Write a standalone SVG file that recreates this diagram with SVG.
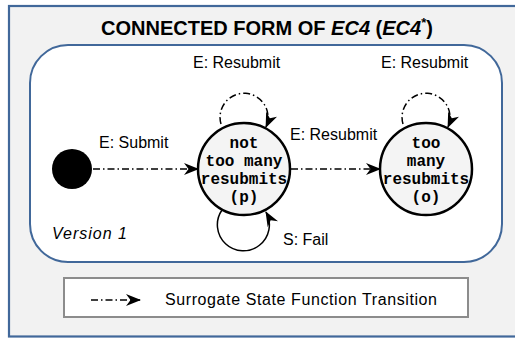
<svg xmlns="http://www.w3.org/2000/svg" width="515" height="338" viewBox="0 0 515 338">
  <defs>
    <marker id="head" markerUnits="userSpaceOnUse" markerWidth="15" markerHeight="12" viewBox="0 0 15 12" refX="14" refY="6" orient="auto">
      <path d="M0,0 L15,6 L0,12 L4.5,6 z" fill="#000"/>
    </marker>
    <style>
      .frame { fill: #f2f2f2; stroke: #41689a; stroke-width: 2.2; }
      .panel { fill: #ffffff; stroke: #41689a; stroke-width: 2; }
      .legend { fill: #ffffff; stroke: #8c8c8c; stroke-width: 2; }
      .state { fill: #f4f4f4; stroke: #000; stroke-width: 2.5; }
      .sf { fill: none; stroke: #000; stroke-width: 1.5; stroke-dasharray: 7 3 1.5 3; marker-end: url(#head); }
      .solid { fill: none; stroke: #000; stroke-width: 1.5; marker-end: url(#head); }
      .lbl { font-family: "Liberation Sans", Arial, sans-serif; font-size: 16px; fill: #000; }
      .mono { font-family: "Liberation Mono", "Courier New", monospace; font-size: 16px; font-weight: bold; fill: #000; text-anchor: middle; }
      .title { font-family: "Liberation Sans", Arial, sans-serif; font-size: 20px; font-weight: bold; fill: #000; text-anchor: middle; }
    </style>
  </defs>

  <!-- outer frame and title -->
  <rect class="frame" x="9" y="6" width="530" height="330.5"/>
  <text class="title" x="267" y="35">CONNECTED FORM OF <tspan font-style="italic">EC4</tspan> (<tspan font-style="italic">EC4</tspan><tspan font-size="13" dy="-8">*</tspan><tspan dy="8">)</tspan></text>

  <!-- version panel -->
  <rect class="panel" x="30" y="45" width="472" height="217" rx="38" ry="38"/>
  <text class="lbl" x="52" y="239" font-style="italic" font-size="17" textLength="75">Version 1</text>

  <!-- nodes -->
  <g id="initial">
    <circle cx="72" cy="169" r="20" fill="#000"/>
  </g>
  <g id="state-p">
    <circle class="state" cx="244" cy="169" r="46"/>
    <text class="mono" x="244" y="148">not</text>
    <text class="mono" x="244" y="166">too many</text>
    <text class="mono" x="244" y="184">resubmits</text>
    <text class="mono" x="244" y="202">(p)</text>
  </g>
  <g id="state-o">
    <circle class="state" cx="426" cy="169" r="46"/>
    <text class="mono" x="426" y="148">too</text>
    <text class="mono" x="426" y="166">many</text>
    <text class="mono" x="426" y="184">resubmits</text>
    <text class="mono" x="426" y="202">(o)</text>
  </g>

  <!-- connectors -->
  <g id="connectors">
    <path class="sf" d="M93,169 L198,169"/>
    <path class="sf" d="M291,169 L380,169"/>
    <path class="sf" d="M221,124 A24,24 0 1 1 266,127"/>
    <path class="sf" d="M403,124 A24,24 0 1 1 448,127"/>
    <path class="solid" d="M222,210 A26,26 0 1 0 266,212"/>
  </g>

  <!-- connector labels -->
  <g id="labels">
    <text class="lbl" x="99" y="148">E: Submit</text>
    <text class="lbl" x="193" y="68">E: Resubmit</text>
    <text class="lbl" x="290" y="140">E: Resubmit</text>
    <text class="lbl" x="381" y="68">E: Resubmit</text>
    <text class="lbl" x="283" y="245">S: Fail</text>
  </g>

  <!-- legend -->
  <g id="legend">
    <rect class="legend" x="64" y="278" width="404" height="39"/>
    <path class="sf" d="M91,300 L140,300"/>
    <text class="lbl" x="165" y="305" font-size="17" textLength="272">Surrogate State Function Transition</text>
  </g>
</svg>
